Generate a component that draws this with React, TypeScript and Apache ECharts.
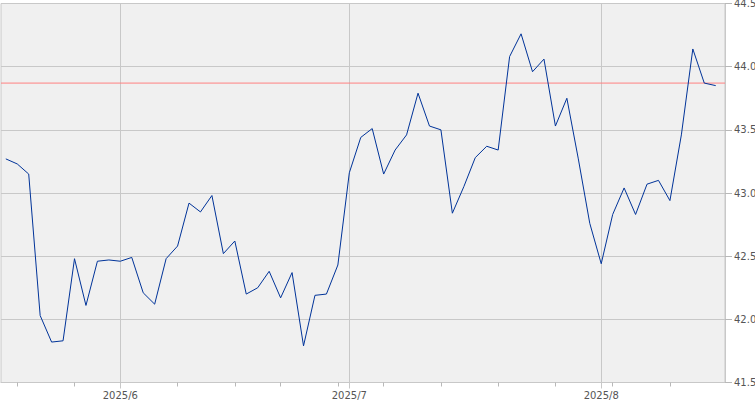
import React, { useEffect, useRef } from "react";
import * as echarts from "echarts";

// Trading days, 2025-05-16 .. 2025-08-15 (x = trading-day index)
const dates: string[] = [
  "05-16",
  "05-19", "05-20", "05-21", "05-22", "05-23",
  "05-27", "05-28", "05-29", "05-30",
  "06-02", "06-03", "06-04", "06-05", "06-06",
  "06-09", "06-10", "06-11", "06-12", "06-13",
  "06-16", "06-17", "06-18", "06-20",
  "06-23", "06-24", "06-25", "06-26", "06-27",
  "06-30",
  "07-01", "07-02", "07-03",
  "07-07", "07-08", "07-09", "07-10", "07-11",
  "07-14", "07-15", "07-16", "07-17", "07-18",
  "07-21", "07-22", "07-23", "07-24", "07-25",
  "07-28", "07-29", "07-30", "07-31",
  "08-01",
  "08-04", "08-05", "08-06", "08-07", "08-08",
  "08-11", "08-12", "08-13", "08-14", "08-15",
];

const values: number[] = [
  43.27, 43.23, 43.15, 42.03, 41.82, 41.83, 42.48, 42.11, 42.46, 42.47,
  42.46, 42.49, 42.21, 42.12, 42.48, 42.58, 42.92, 42.85, 42.98, 42.52,
  42.62, 42.2, 42.25, 42.38, 42.17, 42.37, 41.79, 42.19, 42.2, 42.43,
  43.16, 43.44, 43.51, 43.15, 43.34, 43.46, 43.79, 43.53, 43.5, 42.84,
  43.05, 43.28, 43.37, 43.34, 44.08, 44.26, 43.96, 44.06, 43.53, 43.75,
  43.27, 42.76, 42.44, 42.83, 43.04, 42.83, 43.07, 43.1, 42.94, 43.46,
  44.14, 43.87, 43.85,
];

const refLine = 43.87;

const monthTickIdx: number[] = [10, 30, 52];
const monthLabels: string[] = ["2025/6", "2025/7", "2025/8"];
const weekTickIdx: number[] = [1, 6, 10, 15, 20, 24, 29, 33, 38, 43, 48, 53, 58];

const yMin = 41.5;
const yMax = 44.5;
const yStep = 0.5;

export default function App() {
  const ref = useRef<HTMLDivElement>(null);

  useEffect(() => {
    document.body.style.margin = "0";
    if (!ref.current) return;
    const chart = echarts.init(ref.current, undefined, { renderer: "svg" });
    const gridColor = "#c8c8c8";
    const xMin = -0.42;
    const xMax = 62.81;
    chart.setOption({
      animation: false,
      grid: {
        left: 1,
        right: 30,
        top: 3.5,
        bottom: 17.5,
        show: true,
        backgroundColor: "#f0f0f0",
        borderColor: gridColor,
        borderWidth: 1,
        outerBoundsMode: "none",
        containLabel: false,
      },
      xAxis: [
        {
          type: "value",
          min: xMin,
          max: xMax,
          position: "bottom",
          axisLine: { show: true, onZero: false, lineStyle: { color: gridColor } },
          axisTick: {
            show: true,
            length: 4,
            customValues: weekTickIdx,
            lineStyle: { color: "#b8b8b8" },
          },
          axisLabel: { show: false },
          splitLine: { show: false },
        },
        {
          type: "value",
          min: xMin,
          max: xMax,
          position: "bottom",
          axisLine: { show: false, onZero: false },
          axisTick: {
            show: true,
            length: 6,
            customValues: monthTickIdx,
            lineStyle: { color: gridColor },
          },
          axisLabel: {
            show: true,
            customValues: monthTickIdx,
            formatter: (v: number) => {
              const k = monthTickIdx.indexOf(Math.round(v));
              return k >= 0 ? monthLabels[k] : "";
            },
            color: "#555",
            fontFamily: "DejaVu Sans",
            fontSize: 10,
            margin: 8,
          },
          splitLine: { show: true, lineStyle: { color: gridColor, width: 1 } },
        },
      ],
      yAxis: {
        type: "value",
        position: "right",
        min: yMin,
        max: yMax,
        interval: yStep,
        axisLine: { show: true, onZero: false, lineStyle: { color: gridColor } },
        axisTick: { show: true, length: 7, lineStyle: { color: "#b8b8b8" } },
        axisLabel: {
          color: "#555",
          fontFamily: "DejaVu Sans",
          fontSize: 10,
          margin: 9,
          formatter: (v: number) => v.toFixed(1),
        },
        splitLine: { show: true, lineStyle: { color: gridColor, width: 1 } },
      },
      series: [
        {
          type: "line",
          xAxisIndex: 0,
          data: [
            [xMin, refLine],
            [xMax, refLine],
          ],
          showSymbol: false,
          symbol: "none",
          silent: true,
          lineStyle: { color: "#ff8080", width: 1 },
          z: 2,
        },
        {
          type: "line",
          xAxisIndex: 0,
          data: values.map((v, i) => [i, v]),
          showSymbol: false,
          symbol: "none",
          lineStyle: { color: "#003399", width: 1 },
          z: 3,
        },
      ],
    });
    return () => chart.dispose();
  }, []);

  return (
    <div
      ref={ref}
      style={{ position: "absolute", left: 0, top: 0, width: 755, height: 400 }}
      data-dates={dates.length}
    />
  );
}
